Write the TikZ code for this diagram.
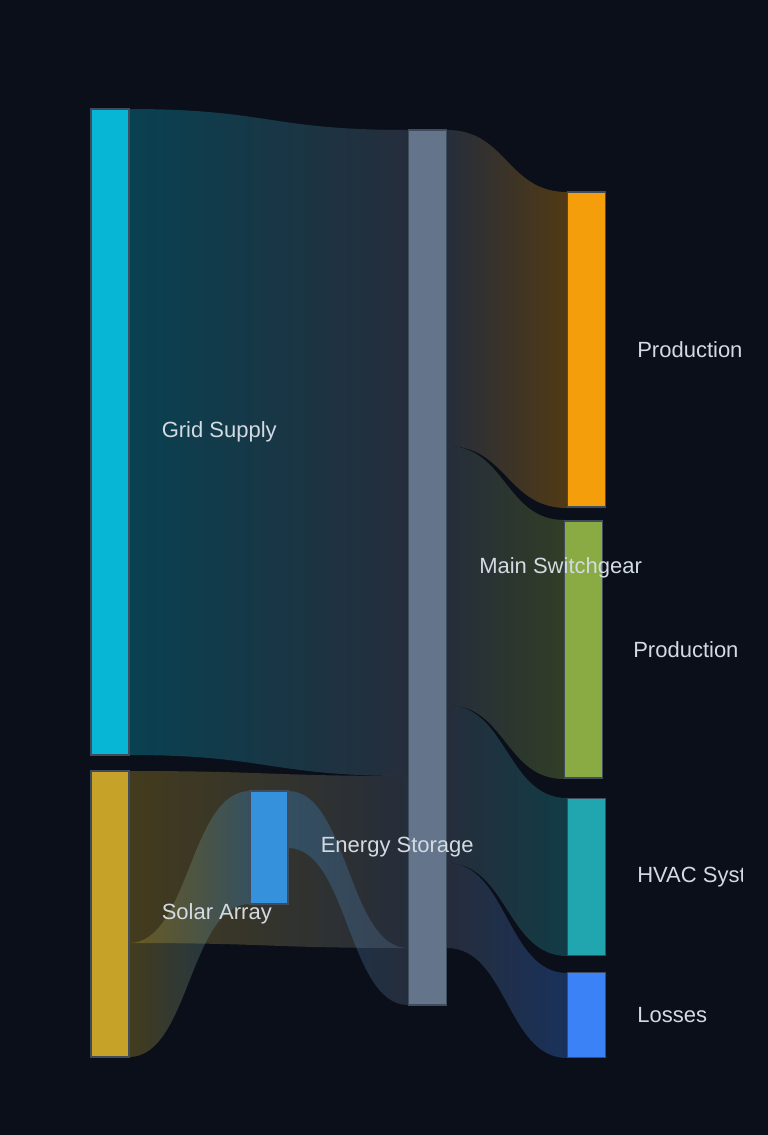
\documentclass[tikz,border=0pt]{standalone}
\usepackage{fontspec}
\setmainfont{Liberation Sans}
\usetikzlibrary{positioning}

\definecolor{bgnavy}{HTML}{0B0F19}
\definecolor{nodeedge}{HTML}{3E4C5E}
\definecolor{labelgray}{HTML}{D3DAE2}
\definecolor{gridcyan}{HTML}{06B6D4}
\definecolor{solargold}{HTML}{C6A328}
\definecolor{storageblue}{HTML}{3591DB}
\definecolor{switchslate}{HTML}{64748B}
\definecolor{prodorange}{HTML}{F59E0B}
\definecolor{prodgreen}{HTML}{8AAB44}
\definecolor{hvacteal}{HTML}{21A5AE}
\definecolor{lossblue}{HTML}{3B82F6}

\tikzset{
  sankeynode/.style={draw=nodeedge, line width=1.2pt, minimum width=38pt, inner sep=0pt},
  flowlabel/.style={text=labelgray, inner sep=0pt, font=\fontsize{22}{26}\selectfont}
}

% band between two nodes: x0, top0, bottom0, x1, top1, bottom1, colour0, colour1
\newcommand{\sankeyflow}[8]{%
  \shade[left color=#7, right color=#8, fill opacity=0.3]
    (#1,#2) .. controls ({(#1+#4)/2},#2) and ({(#1+#4)/2},#5) .. (#4,#5)
    -- (#4,#6) .. controls ({(#1+#4)/2},#6) and ({(#1+#4)/2},#3) .. (#1,#3) -- cycle;}

\begin{document}
\begin{tikzpicture}[x=1pt,y=-1pt]
  % background
  \fill[bgnavy] (0,0) rectangle (768,1135);

  %flows into the switchgear
  \sankeyflow{129}{109}{755}{408}{130}{776}{gridcyan}{switchslate}
  \sankeyflow{129}{771}{943}{408}{776}{948}{solargold}{switchslate}
  \sankeyflow{129}{943}{1057}{250}{791}{904}{solargold}{storageblue}
  \sankeyflow{288}{791}{848}{408}{948}{1005}{storageblue}{switchslate}

  %flows out of the switchgear
  \sankeyflow{447}{130}{446}{567}{192}{508}{switchslate}{prodorange}
  \sankeyflow{447}{446}{705}{564}{520}{779}{switchslate}{prodgreen}
  \sankeyflow{447}{705}{863}{567}{798}{956}{switchslate}{hvacteal}
  \sankeyflow{447}{863}{948}{567}{973}{1058}{switchslate}{lossblue}

  % nodes
  \node[sankeynode, fill=gridcyan, minimum height=646pt] (grid) at (110,432) {};
  \node[sankeynode, fill=solargold, minimum height=286pt] (solar) at (110,914) {};
  \node[sankeynode, fill=storageblue, minimum height=113pt] (storage) at (269,847.5) {};
  \node[sankeynode, fill=switchslate, minimum height=875pt] (switchgear) at (427.5,567.5) {};
  \node[sankeynode, fill=prodorange, minimum height=315pt] (prodA) at (586.5,349.5) {};
  \node[sankeynode, fill=prodgreen, minimum height=257pt] (prodB) at (583.5,649.5) {};
  \node[sankeynode, fill=hvacteal, minimum height=157pt] (hvac) at (586.5,877) {};
  \node[sankeynode, fill=lossblue, minimum height=85pt] (losses) at (586.5,1015) {};

  % labels
  \node[flowlabel, right=32pt of grid] (gridlabel) {Grid Supply};
  \node[flowlabel, right=32pt of solar] (solarlabel) {Solar Array};
  \node[flowlabel, right=32pt of storage] (storagelabel) {Energy Storage};
  \node[flowlabel, right=32pt of switchgear] (switchlabel) {Main Switchgear};
  \begin{scope}
    \clip (0,0) rectangle (742,1135);
    \node[flowlabel, right=31pt of prodA] (prodAlabel) {Production};
    \node[flowlabel, right=30pt of prodB] (prodBlabel) {Production};
    \node[flowlabel, right=31pt of hvac] (hvaclabel) {HVAC Systems};
    \node[flowlabel, right=31pt of losses] (losslabel) {Losses};
  \end{scope}
\end{tikzpicture}
\end{document}
